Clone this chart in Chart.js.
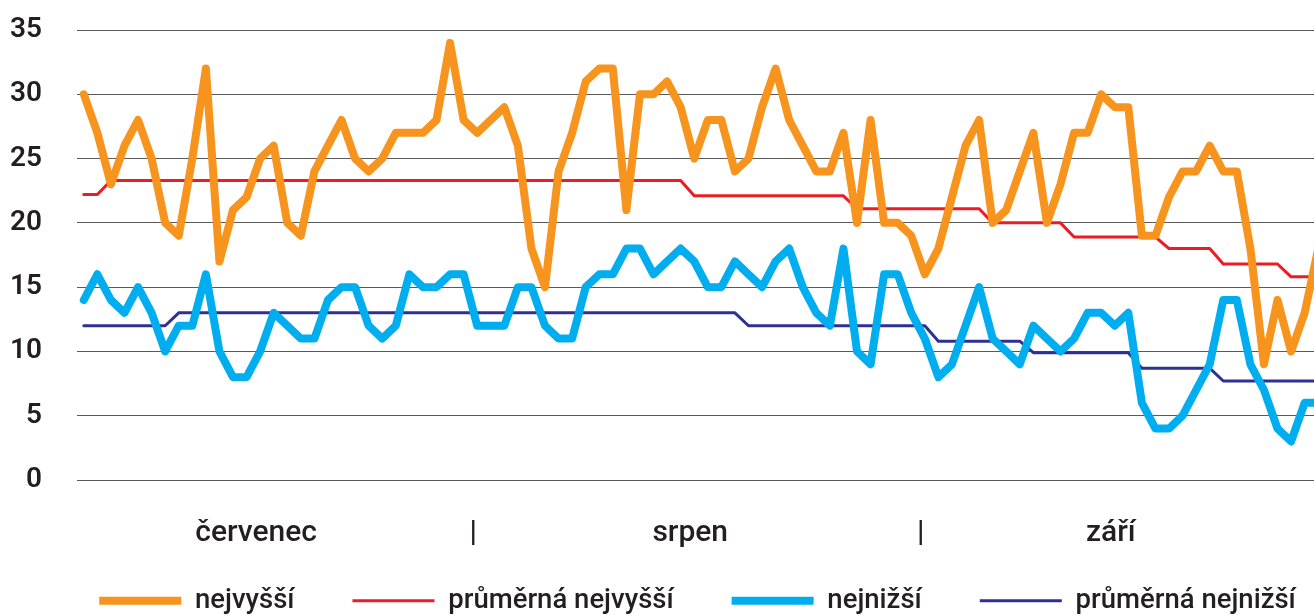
<!DOCTYPE html>
<html lang="cs">
<head>
<meta charset="utf-8">
<title>Teploty léto</title>
<script src="https://cdn.jsdelivr.net/npm/chart.js@4.4.1/dist/chart.umd.min.js"></script>
<style>
    html, body { margin: 0; padding: 0; background: #fff; overflow: hidden; }
    .chart-wrap { position: relative; width: 1325px; height: 615px; }
</style>
</head>
<body>
<div class="chart-wrap"><canvas id="tempChart"></canvas></div>
<script>
// Daily values, 1 July - 30 September
const maxTemps = [
    30, 27, 23, 26, 28, 25, 20, 19, 25, 32,
    17, 21, 22, 25, 26, 20, 19, 24, 26, 28,
    25, 24, 25, 27, 27, 27, 28, 34, 28, 27,
    28, 29, 26, 18, 15, 24, 27, 31, 32, 32,
    21, 30, 30, 31, 29, 25, 28, 28, 24, 25,
    29, 32, 28, 26, 24, 24, 27, 20, 28, 20,
    20, 19, 16, 18, 22, 26, 28, 20, 21, 24,
    27, 20, 23, 27, 27, 30, 29, 29, 19, 19,
    22, 24, 24, 26, 24, 24, 18, 9, 14, 10,
    13, 18
];

const minTemps = [
    14, 16, 14, 13, 15, 13, 10, 12, 12, 16,
    10, 8, 8, 10, 13, 12, 11, 11, 14, 15,
    15, 12, 11, 12, 16, 15, 15, 16, 16, 12,
    12, 12, 15, 15, 12, 11, 11, 15, 16, 16,
    18, 18, 16, 17, 18, 17, 15, 15, 17, 16,
    15, 17, 18, 15, 13, 12, 18, 10, 9, 16,
    16, 13, 11, 8, 9, 12, 15, 11, 10, 9,
    12, 11, 10, 11, 13, 13, 12, 13, 6, 4,
    4, 5, 7, 9, 14, 14, 9, 7, 4, 3,
    6, 6
];

const avgMax = [
    22.2, 22.2, 23.3, 23.3, 23.3, 23.3, 23.3, 23.3, 23.3, 23.3,
    23.3, 23.3, 23.3, 23.3, 23.3, 23.3, 23.3, 23.3, 23.3, 23.3,
    23.3, 23.3, 23.3, 23.3, 23.3, 23.3, 23.3, 23.3, 23.3, 23.3,
    23.3, 23.3, 23.3, 23.3, 23.3, 23.3, 23.3, 23.3, 23.3, 23.3,
    23.3, 23.3, 23.3, 23.3, 23.3, 22.1, 22.1, 22.1, 22.1, 22.1,
    22.1, 22.1, 22.1, 22.1, 22.1, 22.1, 22.1, 21.1, 21.1, 21.1,
    21.1, 21.1, 21.1, 21.1, 21.1, 21.1, 21.1, 20.0, 20.0, 20.0,
    20.0, 20.0, 20.0, 18.9, 18.9, 18.9, 18.9, 18.9, 18.9, 18.9,
    18.0, 18.0, 18.0, 18.0, 16.8, 16.8, 16.8, 16.8, 16.8, 15.8,
    15.8, 15.8
];

const avgMin = [
    12, 12, 12, 12, 12, 12, 12, 13, 13, 13,
    13, 13, 13, 13, 13, 13, 13, 13, 13, 13,
    13, 13, 13, 13, 13, 13, 13, 13, 13, 13,
    13, 13, 13, 13, 13, 13, 13, 13, 13, 13,
    13, 13, 13, 13, 13, 13, 13, 13, 13, 12,
    12, 12, 12, 12, 12, 12, 12, 12, 12, 12,
    12, 12, 12, 10.8, 10.8, 10.8, 10.8, 10.8, 10.8, 10.8,
    9.9, 9.9, 9.9, 9.9, 9.9, 9.9, 9.9, 9.9, 8.7, 8.7,
    8.7, 8.7, 8.7, 8.7, 7.7, 7.7, 7.7, 7.7, 7.7, 7.7,
    7.7, 7.7
];

// Categories: day.month for each day of the season
const months = [7, 8, 9];
const monthLengths = [31, 31, 30];
const days = [];
months.forEach((m, i) => {
    for (let d = 1; d <= monthLengths[i]; d++) days.push(d + '.' + m + '.');
});

// Text under the axis and the day it sits on
const monthLabels = ['červenec', '|', 'srpen', '|', 'září'];
const monthLabelAt = [13, 29, 45, 62, 76];

const seriesNames = ['nejvyšší', 'průměrná nejvyšší', 'nejnižší', 'průměrná nejnižší'];
const textColor = '#231f20';

function lineDataset(label, data, color, width) {
    return {
        label: label,
        data: data,
        borderColor: color,
        backgroundColor: color,
        borderWidth: width,
        borderJoinStyle: 'round',
        borderCapStyle: 'round',
        pointRadius: 0,
        pointHoverRadius: 0,
        tension: 0,
        fill: false
    };
}

// The legend needs wide gaps between items but little height,
// so its box is laid out short and then stretched up under the month labels
const legendNudge = {
    id: 'legendNudge',
    afterLayout(chart) {
        const legend = chart.legend;
        legend.top -= 57;
        legend.left += 35;
        legend.right += 35;
    }
};

function initTempChart() {
    const ctx = document.getElementById('tempChart').getContext('2d');

    const config = {
        type: 'line',
        data: {
            labels: days,
            datasets: [
                lineDataset(seriesNames[0], maxTemps, '#f7941d', 8),
                lineDataset(seriesNames[1], avgMax, '#ed1c24', 3),
                lineDataset(seriesNames[2], minTemps, '#00aeef', 8),
                lineDataset(seriesNames[3], avgMin, '#2e3192', 3)
            ]
        },
        options: {
            responsive: true,
            maintainAspectRatio: false,
            animation: false,
            devicePixelRatio: 1,
            layout: {
                padding: { top: 30, left: 0, right: 0, bottom: 0 }
            },
            plugins: {
                tooltip: { enabled: false },
                legend: {
                    position: 'bottom',
                    maxHeight: 29,
                    labels: {
                        usePointStyle: true,
                        pointStyle: 'line',
                        pointStyleWidth: 82,
                        padding: 58,
                        color: textColor,
                        font: { family: 'Roboto', size: 27.5, weight: '500' }
                    }
                }
            },
            scales: {
                x: {
                    offset: true,
                    grid: { display: false, drawTicks: false },
                    border: { display: false },
                    ticks: {
                        autoSkip: false,
                        maxRotation: 0,
                        padding: 0,
                        labelOffset: -4,
                        color: textColor,
                        font: { family: 'Roboto', size: 30, weight: '500', lineHeight: '106px' },
                        callback: function(value, index) {
                            const k = monthLabelAt.indexOf(index);
                            return k >= 0 ? monthLabels[k] : '';
                        }
                    }
                },
                y: {
                    min: 0,
                    max: 35,
                    afterFit: function(scale) {
                        scale.width = 77;
                    },
                    grid: {
                        color: '#5a5a5a',
                        lineWidth: 1,
                        drawTicks: true,
                        tickLength: 35,
                        tickColor: 'rgba(0, 0, 0, 0)'
                    },
                    border: { display: false },
                    ticks: {
                        stepSize: 5,
                        padding: 0,
                        color: textColor,
                        font: { family: 'Roboto', size: 28, weight: '600' }
                    }
                }
            }
        },
        plugins: [legendNudge]
    };

    new Chart(ctx, config);
}

document.addEventListener('DOMContentLoaded', () => {
    initTempChart();
});
</script>
</body>
</html>
